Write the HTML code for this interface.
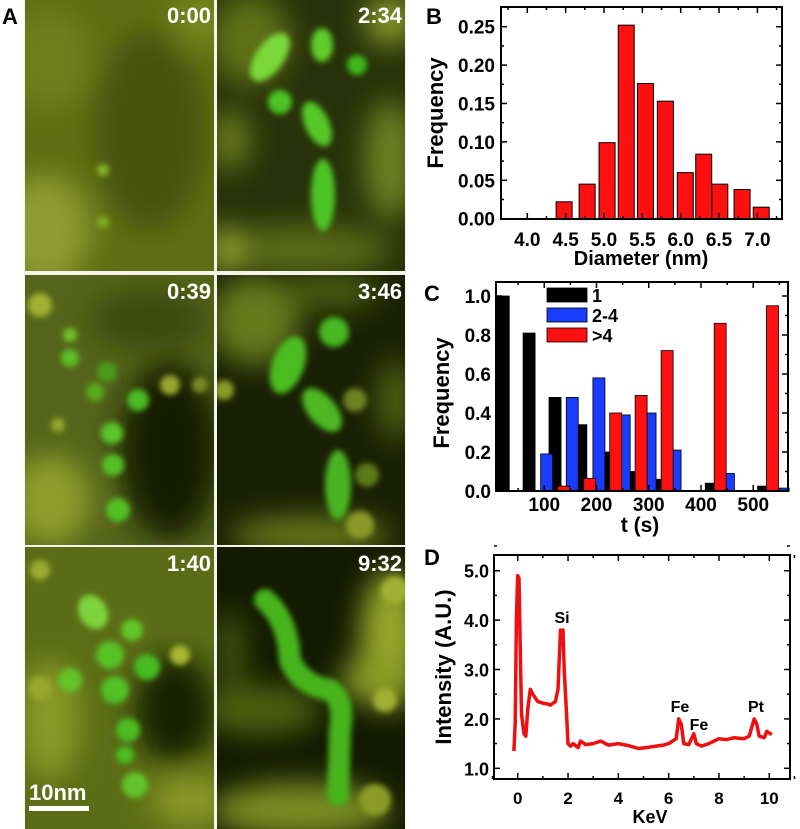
<!DOCTYPE html>
<html><head><meta charset="utf-8"><style>
html,body{margin:0;padding:0;background:#fff;width:800px;height:829px;overflow:hidden}
svg text{font-family:"Liberation Sans",Arial,sans-serif;font-weight:bold}
</style></head><body>
<svg id="fig" width="800" height="829" viewBox="0 0 800 829" xmlns="http://www.w3.org/2000/svg">
<defs>
<filter id="bgblur" x="-20%" y="-20%" width="140%" height="140%"><feGaussianBlur stdDeviation="14"/></filter>
<filter id="blur" x="-50%" y="-50%" width="200%" height="200%"><feGaussianBlur stdDeviation="3"/></filter>
<clipPath id="p1"><rect x="25" y="0" width="189" height="271"/></clipPath>
<clipPath id="p2"><rect x="217" y="0" width="188" height="271"/></clipPath>
<clipPath id="p3"><rect x="25" y="275" width="189" height="270"/></clipPath>
<clipPath id="p4"><rect x="217" y="275" width="188" height="270"/></clipPath>
<clipPath id="p5"><rect x="25" y="547" width="189" height="282"/></clipPath>
<clipPath id="p6"><rect x="217" y="547" width="188" height="282"/></clipPath>
</defs>
<rect x="24" y="0" width="382" height="829" fill="#f4f4ea"/>

<g clip-path="url(#p1)">
<rect x="25" y="0" width="189" height="271" fill="#5f6e14"/>
<g filter="url(#bgblur)">
<ellipse cx="150" cy="130" rx="55" ry="100" fill="#46520c"/>
<ellipse cx="45" cy="230" rx="45" ry="55" fill="#8e9c30"/>
<ellipse cx="50" cy="60" rx="40" ry="50" fill="#70801c"/>
<ellipse cx="200" cy="20" rx="30" ry="30" fill="#76861e"/>
</g>
<g filter="url(#blur)"><circle cx="103" cy="170" r="6" fill="#88b828"/><circle cx="103" cy="222" r="6" fill="#80b022"/></g>
</g>
<g clip-path="url(#p2)">
<rect x="217" y="0" width="188" height="271" fill="#28320a"/>
<g filter="url(#bgblur)">
<ellipse cx="250" cy="40" rx="40" ry="45" fill="#5f7016"/>
<ellipse cx="390" cy="160" rx="25" ry="60" fill="#6e8020"/>
<ellipse cx="300" cy="250" rx="90" ry="25" fill="#5a6a18"/>
<ellipse cx="230" cy="140" rx="20" ry="30" fill="#6a7a1c"/>
<ellipse cx="390" cy="20" rx="25" ry="25" fill="#8a9a2a"/>
<ellipse cx="225" cy="250" rx="14" ry="25" fill="#9aaa30"/>
</g>
<g filter="url(#blur)">
<ellipse cx="270" cy="57" rx="14" ry="28" transform="rotate(35 270 57)" fill="#7ad83a"/>
<ellipse cx="322" cy="45" rx="11" ry="17" fill="#5ecc2a"/>
<circle cx="357" cy="65" r="10" fill="#3eb81e"/>
<circle cx="280" cy="102" r="12" fill="#4cc424"/>
<ellipse cx="317" cy="124" rx="12" ry="24" transform="rotate(-25 317 124)" fill="#54c828"/>
<ellipse cx="323" cy="195" rx="12" ry="36" fill="#4ec426"/>
</g>
</g>
<g clip-path="url(#p3)">
<rect x="25" y="275" width="189" height="270" fill="#55641a"/>
<g filter="url(#bgblur)">
<ellipse cx="170" cy="450" rx="50" ry="90" fill="#161c02"/>
<ellipse cx="50" cy="500" rx="40" ry="45" fill="#8e9e2c"/>
<ellipse cx="150" cy="320" rx="60" ry="30" fill="#3c4a0c"/>
</g>
<g filter="url(#blur)">
<circle cx="40" cy="305" r="12" fill="#a0b030"/>
<circle cx="70" cy="335" r="7" fill="#6ec42a"/>
<circle cx="70" cy="358" r="9" fill="#5cc026"/>
<circle cx="95" cy="392" r="9" fill="#58ac22"/>
<circle cx="107" cy="372" r="10" fill="#4a9c1c"/>
<circle cx="138" cy="400" r="11" fill="#4cbc24"/>
<circle cx="112" cy="433" r="11" fill="#5cc42a"/>
<circle cx="113" cy="465" r="11" fill="#52c026"/>
<circle cx="118" cy="510" r="12" fill="#52c026"/>
<circle cx="170" cy="385" r="10" fill="#98a82e"/>
<circle cx="58" cy="425" r="7" fill="#98a82e"/>
<circle cx="200" cy="385" r="8" fill="#7a8a22"/>
</g>
</g>
<g clip-path="url(#p4)">
<rect x="217" y="275" width="188" height="270" fill="#1a2004"/>
<g filter="url(#bgblur)">
<ellipse cx="255" cy="320" rx="45" ry="45" fill="#66781a"/>
<ellipse cx="330" cy="290" rx="50" ry="20" fill="#4a5a10"/>
<ellipse cx="310" cy="535" rx="80" ry="18" fill="#6a7a1c"/>
<ellipse cx="395" cy="400" rx="15" ry="40" fill="#5a6a14"/>
</g>
<g filter="url(#blur)">
<circle cx="224" cy="390" r="10" fill="#8a9a28"/>
<circle cx="334" cy="332" r="15" fill="#46b820"/>
<ellipse cx="288" cy="365" rx="16" ry="30" transform="rotate(20 288 365)" fill="#4cbc24"/>
<ellipse cx="322" cy="410" rx="14" ry="26" transform="rotate(-40 322 410)" fill="#4eb824"/>
<circle cx="355" cy="400" r="12" fill="#6e8020"/>
<circle cx="367" cy="475" r="12" fill="#5a7a16"/>
<ellipse cx="338" cy="485" rx="13" ry="35" fill="#48b422"/>
<circle cx="360" cy="525" r="14" fill="#8a9a28"/>
</g>
</g>
<g clip-path="url(#p5)">
<rect x="25" y="547" width="189" height="282" fill="#5c6c16"/>
<g filter="url(#bgblur)">
<ellipse cx="175" cy="710" rx="40" ry="55" fill="#182002"/>
<ellipse cx="50" cy="720" rx="30" ry="60" fill="#889a28"/>
<ellipse cx="190" cy="800" rx="40" ry="25" fill="#8a9a26"/>
</g>
<g filter="url(#blur)">
<circle cx="40" cy="570" r="10" fill="#9aaa30"/>
<ellipse cx="93" cy="612" rx="14" ry="18" transform="rotate(-30 93 612)" fill="#7ed43c"/>
<circle cx="132" cy="630" r="11" fill="#62c42c"/>
<circle cx="110" cy="655" r="14" fill="#56c228"/>
<circle cx="147" cy="667" r="13" fill="#48bc22"/>
<circle cx="70" cy="680" r="12" fill="#62c42c"/>
<circle cx="115" cy="690" r="14" fill="#52c026"/>
<circle cx="180" cy="655" r="10" fill="#a8b830"/>
<circle cx="40" cy="688" r="12" fill="#98a82e"/>
<circle cx="128" cy="730" r="12" fill="#4cbc24"/>
<circle cx="125" cy="755" r="9" fill="#4cbc24"/>
<circle cx="135" cy="785" r="13" fill="#62c42c"/>
</g>
</g>
<g clip-path="url(#p6)">
<rect x="217" y="547" width="188" height="282" fill="#141a02"/>
<g filter="url(#bgblur)">
<ellipse cx="390" cy="640" rx="30" ry="70" fill="#96a82c"/>
<ellipse cx="380" cy="680" rx="40" ry="25" fill="#8a9c26"/>
<ellipse cx="260" cy="710" rx="60" ry="25" fill="#4e5e10"/>
<ellipse cx="300" cy="810" rx="90" ry="28" fill="#7a8c20"/>
<ellipse cx="230" cy="650" rx="15" ry="40" fill="#445410"/>
</g>
<g filter="url(#blur)">
<path d="M265 600 Q288 620 290 660 Q300 685 330 690 Q345 700 340 730 L338 795" stroke="#46b41e" stroke-width="22" fill="none" stroke-linecap="round"/>
<circle cx="385" cy="700" r="12" fill="#a0b030"/>
<circle cx="395" cy="590" r="14" fill="#a0b030"/>
<circle cx="375" cy="800" r="16" fill="#8a9c26"/>
</g>
</g>
<g fill="#f4f4ea">
<rect x="214" y="0" width="3" height="829"/>
<rect x="25" y="271" width="381" height="4"/>
<rect x="25" y="545" width="381" height="2"/>
</g>
<g fill="#ffffff" font-size="22" text-anchor="end">
<text x="211" y="23">0:00</text>
<text x="402" y="23">2:34</text>
<text x="211" y="299">0:39</text>
<text x="402" y="299">3:46</text>
<text x="211" y="571">1:40</text>
<text x="402" y="571">9:32</text>
</g>
<text x="29" y="800" fill="#fff" font-size="22">10nm</text>
<rect x="29" y="806" width="60" height="5" fill="#fff"/>

<g font-size="22" fill="#000">
<text x="2" y="24">A</text>
<text x="426" y="24">B</text>
<text x="424" y="301">C</text>
<text x="424" y="565">D</text>
</g>
<g id="chartB"></g>
<g id="chartC"></g>
<g id="chartD"></g>
</svg>
<script>
// Chart B data
const bDiam = [4.48, 4.78, 5.04, 5.29, 5.54, 5.80, 6.06, 6.30, 6.51, 6.80, 7.05];
const bFreq = [0.022, 0.045, 0.099, 0.252, 0.176, 0.153, 0.060, 0.084, 0.045, 0.038, 0.015];
const bXTicks = ["4.0", "4.5", "5.0", "5.5", "6.0", "6.5", "7.0"];
const bYTicks = ["0.00", "0.05", "0.10", "0.15", "0.20", "0.25"];
// Chart C data
const cBlackT = [21.6, 71, 120.6, 170, 219.5, 268.6, 318.3, 419.7, 519.7];
const cBlackV = [1.0, 0.81, 0.48, 0.34, 0.20, 0.10, 0.06, 0.04, 0.025];
const cBlueT = [104.6, 153.6, 204.6, 253, 302.5, 350.4, 452.5, 557.4];
const cBlueV = [0.19, 0.48, 0.58, 0.39, 0.40, 0.21, 0.09, 0.015];
const cRedT = [137.2, 187, 236.8, 285.4, 335.2, 436.7, 536.8];
const cRedV = [0.025, 0.065, 0.40, 0.49, 0.72, 0.86, 0.95];
const cXTicks = ["100", "200", "300", "400", "500"];
const cYTicks = ["0.0", "0.2", "0.4", "0.6", "0.8", "1.0"];
const cLegend = ["1", "2-4", ">4"];
// Chart D data
const dKeV = [-0.15,-0.1,-0.05,0,0.05,0.1,0.15,0.25,0.32,0.4,0.5,0.6,0.8,1.0,1.2,1.3,1.5,1.6,1.7,1.75,1.8,1.85,1.95,2.0,2.1,2.2,2.4,2.5,2.7,3.0,3.3,3.6,4.0,4.4,4.8,5.1,5.5,5.8,6.0,6.3,6.4,6.5,6.6,6.8,7.0,7.1,7.3,7.6,8.0,8.3,8.6,9.0,9.2,9.4,9.5,9.6,9.8,9.9,10.1];
const dInt = [1.35,1.9,4.0,4.9,4.85,3.5,2.1,1.7,1.65,2.2,2.6,2.5,2.35,2.32,2.3,2.28,2.35,2.6,3.8,3.7,3.8,3.0,2.0,1.5,1.45,1.5,1.42,1.55,1.48,1.5,1.55,1.47,1.5,1.46,1.4,1.42,1.45,1.47,1.5,1.6,2.0,1.9,1.5,1.48,1.7,1.5,1.45,1.5,1.6,1.58,1.62,1.6,1.65,2.0,1.9,1.65,1.62,1.75,1.68];
const dXTicks = ["0", "2", "4", "6", "8", "10"];
const dYTicks = ["1.0", "2.0", "3.0", "4.0", "5.0"];

const NS = "http://www.w3.org/2000/svg";
function mk(parent, tag, attrs, txt) {
  const e = document.createElementNS(NS, tag);
  for (const k in attrs) e.setAttribute(k, attrs[k]);
  if (txt !== undefined) e.textContent = txt;
  parent.appendChild(e);
  return e;
}
function frame(g, L, T, R, B) {
  const r = mk(g, "rect", {x: L, y: T, width: R - L, height: B - T, fill: "none", stroke: "#000", "stroke-width": 2});
  
  
}
function tick(g, x1, y1, x2, y2) {
  mk(g, "line", {x1, y1, x2, y2, stroke: "#000", "stroke-width": 1.5});
}

(function () {
  const g = document.getElementById("chartB");
  const L = 501, R = 782, T = 7, B = 219;
  const xs = v => 527.3 + (v - 4) * 76.7;
  const ys = v => 218.7 - v * 768;
  bDiam.forEach((d, i) => {
    const r = mk(g, "rect", {x: xs(d) - 8, y: ys(bFreq[i]), width: 16, height: ys(0) - ys(bFreq[i]), fill: "#ff1010", stroke: "#000", "stroke-width": 1});
    
    
  });
  frame(g, L, T, R, B);
  bXTicks.forEach(t => {
    const v = parseFloat(t), x = xs(v);
    tick(g, x, B, x, B - 6); tick(g, x, T, x, T + 6);
    tick(g, xs(v + 0.25), B, xs(v + 0.25), B - 3); tick(g, xs(v - 0.25), T, xs(v - 0.25), T + 3);
    tick(g, xs(v + 0.25), T, xs(v + 0.25), T + 3);
    const tx = mk(g, "text", {x, y: 246, "font-size": 19, "text-anchor": "middle"}, t);
    
    
  });
  bYTicks.forEach(t => {
    const v = parseFloat(t), y = ys(v);
    tick(g, L, y, L + 6, y); tick(g, R, y, R - 6, y);
    if (v < 0.25) { tick(g, L, ys(v + 0.025), L + 3, ys(v + 0.025)); tick(g, R, ys(v + 0.025), R - 3, ys(v + 0.025)); }
    const tx = mk(g, "text", {x: 495, y: y + 7, "font-size": 19, "text-anchor": "end"}, t);
    
    
  });
  const xt = mk(g, "text", {x: 641, y: 265, "font-size": 20, "text-anchor": "middle"}, "Diameter (nm)");
  
  
  const yt = mk(g, "text", {x: 0, y: 0, "font-size": 22, "text-anchor": "middle", transform: "translate(443,113) rotate(-90)"}, "Frequency");
  
  
})();

(function () {
  const g = document.getElementById("chartC");
  const L = 496, R = 788, T = 282, B = 491;
  const xs = v => 492 + v * 0.5225;
  const ys = v => 491 - v * 195;
  const bw = 12;
  function series(ts, vs, col, name) {
    ts.forEach((t, i) => {
      const r = mk(g, "rect", {x: xs(t) - bw / 2, y: ys(vs[i]), width: bw, height: ys(0) - ys(vs[i]), fill: col, stroke: "#000", "stroke-width": 0.8});
      
      
    });
  }
  series(cBlackT, cBlackV, "#000000", "single");
  series(cBlueT, cBlueV, "#1a3cff", "2-4");
  series(cRedT, cRedV, "#ff1010", "over-4");
  frame(g, L, T, R, B);
  cXTicks.forEach(t => {
    const v = parseFloat(t), x = xs(v);
    tick(g, x, B, x, B - 6); tick(g, x, T, x, T + 6);
    tick(g, xs(v - 50), B, xs(v - 50), B - 3); tick(g, xs(v - 50), T, xs(v - 50), T + 3);
    const tx = mk(g, "text", {x, y: 511, "font-size": 19, "text-anchor": "middle"}, t);
    
    
  });
  tick(g, xs(550), B, xs(550), B - 3); tick(g, xs(550), T, xs(550), T + 3);
  cYTicks.forEach(t => {
    const v = parseFloat(t), y = ys(v);
    tick(g, L, y, L + 6, y); tick(g, R, y, R - 6, y);
    if (v < 1) { tick(g, L, ys(v + 0.1), L + 3, ys(v + 0.1)); tick(g, R, ys(v + 0.1), R - 3, ys(v + 0.1)); }
    const tx = mk(g, "text", {x: 491, y: y + 7, "font-size": 19, "text-anchor": "end"}, t);
    
    
  });
  const cols = ["#000000", "#1a3cff", "#ff1010"];
  cLegend.forEach((lab, i) => {
    const y = 288 + i * 20;
    const r = mk(g, "rect", {x: 547, y, width: 40, height: 14, fill: cols[i], stroke: "#000", "stroke-width": 0.8});
    
    
    const tx = mk(g, "text", {x: 592, y: y + 14, "font-size": 18}, lab);
    
    
  });
  const xt = mk(g, "text", {x: 640, y: 532, "font-size": 21, "text-anchor": "middle"}, "t (s)");
  
  
  const yt = mk(g, "text", {x: 0, y: 0, "font-size": 22, "text-anchor": "middle", transform: "translate(449,393) rotate(-90)"}, "Frequency");
  
  
})();

(function () {
  const g = document.getElementById("chartD");
  const L = 494, R = 790, T = 555, B = 779;
  const xs = v => 517.7 + v * 25.16;
  const ys = v => 768.3 - (v - 1) * 49.4;
  frame(g, L, T, R, B);
  dXTicks.forEach(t => {
    const v = parseFloat(t), x = xs(v);
    tick(g, x, B, x, B - 6); tick(g, x, T, x, T + 6);
    tick(g, xs(v + 1), B, xs(v + 1), B - 3); tick(g, xs(v + 1), T, xs(v + 1), T + 3);
    const tx = mk(g, "text", {x, y: 804, "font-size": 17, "text-anchor": "middle"}, t);
    
    
  });
  tick(g, xs(-1), B, xs(-1), B - 3);
  dYTicks.forEach(t => {
    const v = parseFloat(t), y = ys(v);
    tick(g, L, y, L + 6, y); tick(g, R, y, R - 6, y);
    tick(g, L, ys(v + 0.5), L + 3, ys(v + 0.5)); tick(g, R, ys(v + 0.5), R - 3, ys(v + 0.5));
    const tx = mk(g, "text", {x: 489, y: y + 7, "font-size": 18, "text-anchor": "end"}, t);
    
    
  });
  const pts = dKeV.map((k, i) => xs(k).toFixed(1) + "," + ys(dInt[i]).toFixed(1)).join(" ");
  const pl = mk(g, "polyline", {points: pts, fill: "none", stroke: "#ee1010", "stroke-width": 3.5, "stroke-linejoin": "round"});
  
  
  [["Si", 562, 623], ["Fe", 680, 712], ["Fe", 699, 730], ["Pt", 756, 712]].forEach(a => {
    const tx = mk(g, "text", {x: a[1], y: a[2], "font-size": 16, "text-anchor": "middle"}, a[0]);
    
    
  });
  const xt = mk(g, "text", {x: 650, y: 823, "font-size": 18, "text-anchor": "middle"}, "KeV");
  
  
  const yt = mk(g, "text", {x: 0, y: 0, "font-size": 22, "font-weight": "normal", "text-anchor": "middle", transform: "translate(451,667) rotate(-90)"}, "Intensity (A.U.)");
  
  
})();
</script>
</body></html>
